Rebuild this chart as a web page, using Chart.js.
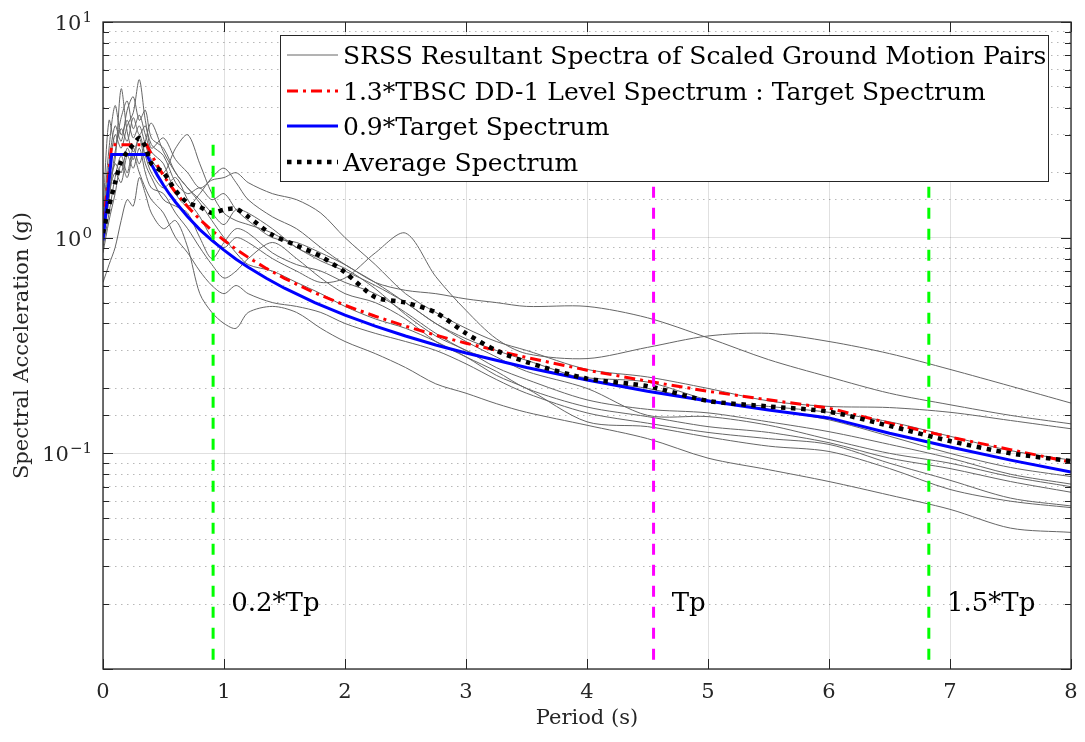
<!DOCTYPE html>
<html>
<head>
<meta charset="utf-8">
<script src="https://cdn.jsdelivr.net/npm/chart.js@4.4.1/dist/chart.umd.min.js"></script>
<style>
  html, body { margin: 0; padding: 0; background: #fff; }
</style>
</head>
<body>
<canvas id="spectraChart" width="1085" height="742"></canvas>
<script>
// periods (s) of the scaled ground motion spectra
const periods = [0, 0.05, 0.1, 0.15, 0.2, 0.25, 0.3, 0.35, 0.4, 0.5, 0.6, 0.7, 0.8, 0.9, 1.0, 1.1, 1.2, 1.4, 1.6, 1.8,
                 2.0, 2.25, 2.5, 2.75, 3.0, 3.25, 3.5, 4.0, 4.5, 5.0, 5.5, 6.0, 6.5, 7.0, 7.5, 8.0];

// SRSS resultant spectra of the 11 scaled ground motion pairs (g)
const gm01 = [1.0, 1.6, 2.2, 2.0, 2.6, 2.3, 3.0, 2.4, 2.0, 1.7, 1.9, 1.5, 1.25, 1.0, 0.9, 1.0, 0.95, 0.8, 0.7, 0.62,
              0.65, 0.85, 1.05, 0.66, 0.46, 0.34, 0.29, 0.275, 0.31, 0.35, 0.36, 0.33, 0.29, 0.245, 0.205, 0.171];
const gm02 = [1.1, 2.0, 3.0, 2.6, 3.3, 3.8, 5.4, 3.5, 2.7, 2.4, 1.8, 1.6, 1.7, 1.5, 1.6, 1.35, 1.2, 1.0, 0.95, 0.85,
              0.75, 0.62, 0.57, 0.55, 0.52, 0.5, 0.48, 0.48, 0.425, 0.343, 0.272, 0.226, 0.19, 0.168, 0.15, 0.137];
const gm03 = [0.95, 1.5, 2.5, 3.2, 2.8, 3.6, 3.0, 3.3, 2.6, 2.9, 2.3, 2.0, 1.7, 1.85, 1.9, 2.0, 1.8, 1.6, 1.5, 1.3,
              1.0, 0.75, 0.55, 0.45, 0.38, 0.33, 0.3, 0.245, 0.226, 0.2, 0.175, 0.165, 0.163, 0.155, 0.142, 0.13];
const gm04 = [1.2, 2.6, 4.1, 3.0, 3.5, 2.9, 3.3, 2.7, 2.3, 2.0, 2.6, 3.0, 2.2, 1.6, 1.3, 1.2, 1.15, 1.05, 0.9, 0.78,
              0.7, 0.6, 0.5, 0.4, 0.34, 0.3, 0.27, 0.22, 0.2, 0.175, 0.165, 0.155, 0.14, 0.12, 0.103, 0.093];
const gm05 = [1.05, 1.8, 2.3, 4.9, 3.1, 2.5, 2.9, 2.2, 1.9, 1.5, 1.4, 1.3, 1.0, 0.8, 0.95, 1.1, 1.05, 0.85, 0.75, 0.7,
              0.62, 0.55, 0.45, 0.36, 0.3, 0.27, 0.25, 0.224, 0.214, 0.177, 0.16, 0.143, 0.12, 0.1, 0.086, 0.078];
const gm06 = [0.9, 1.3, 1.9, 2.4, 2.0, 2.6, 2.2, 2.8, 3.4, 2.5, 2.0, 1.7, 1.5, 1.3, 1.15, 1.35, 1.3, 1.1, 0.9, 0.8,
              0.72, 0.58, 0.44, 0.35, 0.3, 0.25, 0.22, 0.177, 0.16, 0.154, 0.14, 0.126, 0.11, 0.095, 0.08, 0.072];
const gm07 = [1.3, 3.5, 2.7, 3.6, 4.3, 3.2, 3.7, 3.0, 2.5, 2.2, 1.6, 1.4, 1.6, 1.9, 2.1, 1.8, 1.5, 1.25, 1.1, 0.9,
              0.75, 0.62, 0.5, 0.4, 0.33, 0.28, 0.24, 0.2, 0.15, 0.148, 0.135, 0.116, 0.1, 0.09, 0.078, 0.070];
const gm08 = [1.0, 1.6, 2.0, 1.8, 2.4, 2.1, 2.6, 2.0, 1.7, 1.6, 1.3, 1.1, 0.9, 0.75, 0.65, 0.7, 0.8, 0.95, 0.8, 0.65,
              0.55, 0.5, 0.42, 0.33, 0.28, 0.24, 0.2, 0.164, 0.148, 0.133, 0.125, 0.112, 0.095, 0.085, 0.074, 0.066];
const gm09 = [0.85, 1.2, 1.6, 2.2, 1.9, 2.4, 2.0, 1.7, 1.5, 1.3, 1.0, 0.85, 0.7, 0.6, 0.55, 0.6, 0.55, 0.5, 0.48, 0.45,
              0.4, 0.36, 0.33, 0.3, 0.26, 0.22, 0.19, 0.154, 0.138, 0.125, 0.117, 0.11, 0.09, 0.075, 0.062, 0.057];
const gm10 = [1.15, 2.2, 3.3, 2.8, 3.9, 4.5, 3.5, 3.9, 2.9, 2.6, 2.0, 1.7, 1.45, 1.2, 1.0, 0.85, 0.75, 0.7, 0.62, 0.55,
              0.48, 0.42, 0.38, 0.33, 0.28, 0.23, 0.2, 0.14, 0.133, 0.119, 0.108, 0.102, 0.085, 0.068, 0.06, 0.056];
const gm11 = [0.62, 0.75, 0.9, 1.2, 1.5, 1.4, 1.9, 1.6, 1.3, 1.1, 1.2, 0.9, 0.55, 0.45, 0.4, 0.38, 0.45, 0.48, 0.45, 0.38,
              0.33, 0.29, 0.25, 0.21, 0.19, 0.17, 0.155, 0.135, 0.117, 0.095, 0.084, 0.074, 0.064, 0.055, 0.045, 0.043];
const gmPairs = [gm01, gm02, gm03, gm04, gm05, gm06, gm07, gm08, gm09, gm10, gm11];

// average spectrum
const avgSpec = [1.05, 1.4, 1.8, 2.25, 2.5, 2.7, 2.9, 2.65, 2.2, 2.0, 1.65, 1.45, 1.39, 1.3, 1.35, 1.36, 1.25, 1.03, 0.92, 0.82,
                 0.69, 0.53, 0.50, 0.45, 0.36, 0.30, 0.265, 0.222, 0.205, 0.175, 0.165, 0.156, 0.134, 0.114, 0.10, 0.092];

// target spectrum (1.3*TBSC DD-1) and 0.9*target
const targetPeriods = [0, 0.072, 0.36, 0.4, 0.45, 0.5, 0.55, 0.6, 0.7, 0.8, 0.9, 1.0, 1.1, 1.2, 1.35, 1.5, 1.75, 2.0,
                       2.25, 2.5, 2.75, 3.0, 3.5, 4.0, 4.5, 5.0, 5.5, 6.0, 6.5, 7.0, 7.5, 8.0];
const targetSpec = [1.08, 2.70, 2.70, 2.43, 2.16, 1.94, 1.77, 1.62, 1.39, 1.215, 1.08, 0.972, 0.884, 0.81, 0.72, 0.648, 0.555, 0.486,
                    0.432, 0.389, 0.353, 0.324, 0.278, 0.243, 0.216, 0.194, 0.177, 0.162, 0.138, 0.119, 0.104, 0.091];
const minSpec = [0.972, 2.43, 2.43, 2.19, 1.944, 1.75, 1.59, 1.46, 1.25, 1.09, 0.972, 0.875, 0.795, 0.729, 0.648, 0.583, 0.50, 0.437,
                 0.389, 0.35, 0.318, 0.292, 0.25, 0.219, 0.194, 0.175, 0.159, 0.146, 0.124, 0.107, 0.093, 0.082];

// Tp markers (drawn top to bottom)
const markerPeriods = [0.91, 4.55, 6.825];
const markerLabels = ['0.2*Tp', 'Tp', '1.5*Tp'];
const markerColors = ['#00ff00', '#ff00ff', '#00ff00'];
const markerSpan = [2.7, 0.01];
const markerTextLevel = 0.02;

// axes
const xTicks = [0, 1, 2, 3, 4, 5, 6, 7, 8];
const yDecades = [10, 1, 0.1];
const yDecadeExp = ['1', '0', '\u22121'];

const legendLabels = [
  'SRSS Resultant Spectra of Scaled Ground Motion Pairs',
  '1.3*TBSC DD-1 Level Spectrum : Target Spectrum',
  '0.9*Target Spectrum',
  'Average Spectrum'
];

const FONT = '"DejaVu Serif", serif';
const isDecade = v => Math.abs(Math.log10(v) - Math.round(Math.log10(v))) < 1e-6;
const pts = (xs, ys) => xs.map((x, i) => ({ x: x, y: ys[i] }));

const datasets = [];
gmPairs.forEach((g, i) => {
  datasets.push({
    data: pts(periods, g), borderColor: '#666666', borderWidth: 1,
    pointRadius: 0, tension: 0.3, order: 10
  });
});
datasets.push({ data: pts(targetPeriods, targetSpec), borderColor: '#ff0000', borderWidth: 3,
  borderDash: [11, 5, 3, 5], pointRadius: 0, tension: 0, order: 5 });
datasets.push({ data: pts(targetPeriods, minSpec), borderColor: '#0000ff', borderWidth: 3,
  pointRadius: 0, tension: 0, order: 4 });
datasets.push({ data: pts(periods, avgSpec), borderColor: '#000000', borderWidth: 4.5,
  borderDash: [4.5, 5.5], borderCapStyle: 'butt', pointRadius: 0, tension: 0.25, order: 3 });
markerPeriods.forEach((p, i) => {
  datasets.push({ data: [{ x: p, y: markerSpan[0] }, { x: p, y: markerSpan[1] }],
    borderColor: markerColors[i], borderWidth: 3, borderDash: [11, 10], pointRadius: 0, order: 1 });
});

const legendSamples = [
  { color: '#666666', width: 1, dash: [] },
  { color: '#ff0000', width: 3, dash: [11, 5, 3, 5] },
  { color: '#0000ff', width: 3, dash: [] },
  { color: '#000000', width: 4.5, dash: [4.5, 5.5] }
];

const framePlugin = {
  id: 'frame',
  beforeDraw(chart) {
    const ctx = chart.ctx;
    ctx.save();
    ctx.fillStyle = '#fff';
    ctx.fillRect(0, 0, chart.width, chart.height);
    ctx.restore();
  },
  afterDraw(chart) {
    const ctx = chart.ctx;
    const a = chart.chartArea;
    const xs = chart.scales.x, ys = chart.scales.y;
    ctx.save();

    // marker labels
    ctx.fillStyle = '#000';
    ctx.font = '26px ' + FONT;
    ctx.textBaseline = 'middle';
    ctx.textAlign = 'left';
    markerPeriods.forEach((p, i) => {
      ctx.fillText(markerLabels[i], xs.getPixelForValue(p + 0.15), ys.getPixelForValue(markerTextLevel));
    });

    // legend
    const lx = 280, ly = 35, lw = 768, lh = 146;
    ctx.fillStyle = '#fff';
    ctx.fillRect(lx, ly, lw, lh);
    ctx.strokeStyle = '#262626';
    ctx.lineWidth = 1;
    ctx.strokeRect(lx + 0.5, ly + 0.5, lw, lh);
    const rowY = [55, 91, 126, 162];
    legendLabels.forEach((txt, i) => {
      const s = legendSamples[i];
      ctx.beginPath();
      ctx.strokeStyle = s.color;
      ctx.lineWidth = s.width;
      ctx.setLineDash(s.dash);
      ctx.moveTo(287, rowY[i]);
      ctx.lineTo(338, rowY[i]);
      ctx.stroke();
      ctx.setLineDash([]);
      ctx.fillStyle = '#000';
      ctx.textBaseline = 'alphabetic';
      ctx.font = '25px ' + FONT;
      ctx.fillText(txt, 343, rowY[i] + 9);
    });

    // axes box and inward ticks
    ctx.strokeStyle = '#262626';
    ctx.lineWidth = 1.3;
    ctx.strokeRect(a.left, a.top, a.right - a.left, a.bottom - a.top);
    ctx.lineWidth = 1;
    ctx.beginPath();
    xTicks.forEach(t => {
      const px = Math.round(xs.getPixelForValue(t)) + 0.5;
      ctx.moveTo(px, a.bottom); ctx.lineTo(px, a.bottom - 10);
      ctx.moveTo(px, a.top); ctx.lineTo(px, a.top + 10);
    });
    ys.ticks.forEach(t => {
      const py = Math.round(ys.getPixelForValue(t.value)) + 0.5;
      const len = isDecade(t.value) ? 10 : 6;
      ctx.moveTo(a.left, py); ctx.lineTo(a.left + len, py);
      ctx.moveTo(a.right, py); ctx.lineTo(a.right - len, py);
    });
    ctx.stroke();

    // tick labels
    ctx.fillStyle = '#262626';
    ctx.font = '21px ' + FONT;
    ctx.textAlign = 'center';
    ctx.textBaseline = 'alphabetic';
    xTicks.forEach(t => ctx.fillText(String(t), xs.getPixelForValue(t), 698));
    yDecades.forEach((v, i) => {
      const py = ys.getPixelForValue(v);
      ctx.font = '15px ' + FONT;
      ctx.textAlign = 'right';
      const ew = ctx.measureText(yDecadeExp[i]).width;
      ctx.fillText(yDecadeExp[i], 92, py + 0);
      ctx.font = '21px ' + FONT;
      ctx.fillText('10', 92 - ew - 1, py + 8);
    });

    // axis titles
    ctx.font = '21px ' + FONT;
    ctx.textAlign = 'center';
    ctx.fillText('Period (s)', (a.left + a.right) / 2, 724);
    ctx.translate(28, (a.top + a.bottom) / 2);
    ctx.rotate(-Math.PI / 2);
    ctx.fillText('Spectral Acceleration (g)', 0, 0);
    ctx.restore();
  }
};

new Chart(document.getElementById('spectraChart'), {
  type: 'line',
  data: { datasets: datasets },
  options: {
    responsive: false,
    animation: false,
    events: [],
    layout: { padding: { left: 0, top: 22, right: 14, bottom: 0 } },
    plugins: { legend: { display: false }, tooltip: { enabled: false } },
    scales: {
      x: {
        type: 'linear', min: 0, max: 8,
        ticks: { display: false, stepSize: 1 },
        grid: { color: 'rgba(0,0,0,0.12)', drawTicks: false },
        border: { display: false },
        afterFit: s => { s.height = 73; }
      },
      y: {
        type: 'logarithmic', min: 0.01, max: 10,
        ticks: { display: false, autoSkip: false },
        grid: {
          drawTicks: false,
          color: c => (c.tick && isDecade(c.tick.value)) ? 'rgba(0,0,0,0.12)' : 'rgba(0,0,0,0.28)'
        },
        border: {
          display: false,
          dash: c => (c.tick && !isDecade(c.tick.value)) ? [1.5, 4.5] : []
        },
        afterFit: s => { s.width = 103; }
      }
    }
  },
  plugins: [framePlugin]
});
</script>
</body>
</html>
